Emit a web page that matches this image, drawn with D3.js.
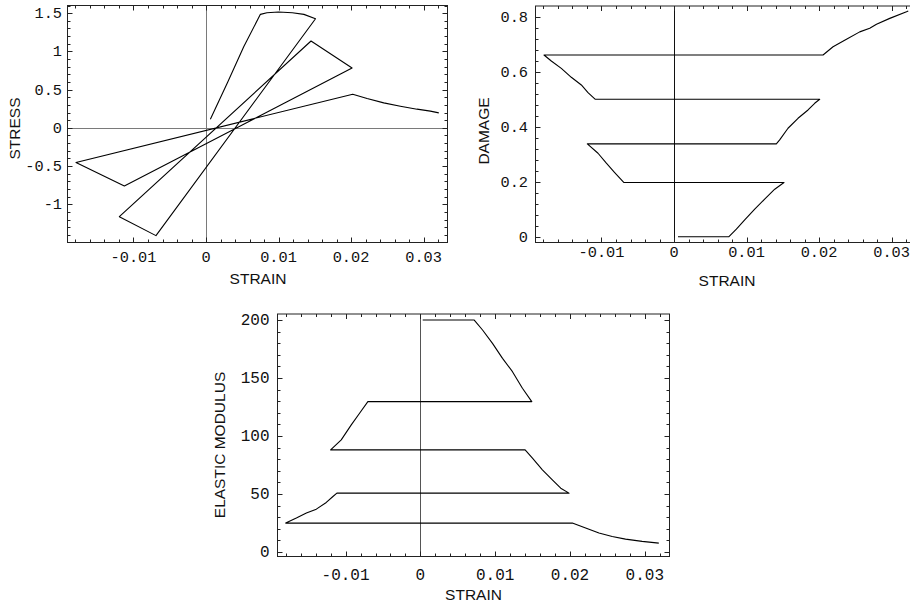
<!DOCTYPE html>
<html>
<head>
<meta charset="utf-8">
<script src="https://cdn.jsdelivr.net/npm/d3@7"></script>
<style>
  html, body { margin: 0; padding: 0; background: #fff; }
  svg { display: block; }
  .tick-label { font-family: "Liberation Mono", "Courier New", monospace; fill: #111; }
  .axis-title { font-family: "Liberation Sans", Arial, Helvetica, sans-serif; fill: #111; }
</style>
</head>
<body>
<svg id="chart" width="910" height="606"></svg>
<script>
// ---------- data ----------
const strainTicks = [-0.01, 0, 0.01, 0.02, 0.03];
const strainTickLabels = ["-0.01", "0", "0.01", "0.02", "0.03"];

const stressTicks = [-1, -0.5, 0, 0.5, 1, 1.5];
const stressTickLabels = ["-1", "-0.5", "0", "0.5", "1", "1.5"];

const damageTicks = [0, 0.2, 0.4, 0.6, 0.8];
const damageTickLabels = ["0", "0.2", "0.4", "0.6", "0.8"];

const modulusTicks = [0, 50, 100, 150, 200];
const modulusTickLabels = ["0", "50", "100", "150", "200"];

// Stress vs strain
const stressStrain = [0.0006, 0.0030, 0.0052, 0.0075, 0.0084, 0.0100, 0.0119, 0.0135, 0.0151,
  -0.0069, -0.01195, 0.01448, 0.02014, -0.01126, -0.01793, 0.02023,
  0.02221, 0.02451, 0.0268, 0.0291, 0.03094, 0.0321];
const stressValues = [0.113, 0.60, 1.06, 1.484, 1.506, 1.514, 1.506, 1.484, 1.427,
  -1.410, -1.162, 1.136, 0.783, -0.7615, -0.4526, 0.4395,
  0.383, 0.326, 0.283, 0.244, 0.218, 0.196];

// Damage vs strain
const damageStrain = [0.00055, 0.00754, 0.0086, 0.00975, 0.01113, 0.0125, 0.01389, 0.01517,
  -0.0069, -0.00818, -0.00933, -0.01048, -0.01195,
  0.01411, 0.01457, 0.01572, 0.0171, 0.01848, 0.0194, 0.02009,
  -0.01085, -0.01186, -0.01278, -0.01416, -0.01554, -0.01692, -0.01793,
  0.02055, 0.02193, 0.02378, 0.02561, 0.02699, 0.02792, 0.02975, 0.03206, 0.0323];
const damageValues = [0, 0, 0.0278, 0.0617, 0.1005, 0.1368, 0.1731, 0.1973,
  0.1973, 0.2336, 0.2675, 0.3038, 0.3377,
  0.3377, 0.3522, 0.3946, 0.4309, 0.4611, 0.4854, 0.4999,
  0.4999, 0.5241, 0.5519, 0.5798, 0.6124, 0.6391, 0.6609,
  0.6609, 0.691, 0.718, 0.745, 0.758, 0.773, 0.794, 0.818, 0.821];

// Elastic modulus vs strain
const modulusStrain = [0.00031, 0.0072, 0.00831, 0.00964, 0.01098, 0.01231, 0.01364, 0.01489,
  -0.00702, -0.00813, -0.00924, -0.01058, -0.0120,
  0.0140, 0.01498, 0.01631, 0.01764, 0.01876, 0.01987,
  -0.01116, -0.01169, -0.01258, -0.01391, -0.01524, -0.01658, -0.0180,
  0.02031, 0.02209, 0.02387, 0.02564, 0.02742, 0.02964, 0.03187];
const modulusValues = [200, 200, 191.4, 179.9, 167.0, 155.5, 141.2, 129.7,
  129.7, 119.7, 109.6, 96.7, 88.1,
  88.1, 80.9, 70.9, 62.3, 55.1, 50.8,
  50.8, 47.9, 42.8, 37.0, 33.6, 29.3, 25.0,
  25.0, 20.7, 16.4, 13.5, 11.2, 9.2, 7.7];

// ---------- drawing ----------
const svg = d3.select("#chart");
svg.append("rect").attr("width", 910).attr("height", 606).attr("fill", "#fff");

const strainDomain = [-0.0191, 0.0333];

function panel(cfg) {
  const g = svg.append("g");
  const x = d3.scaleLinear().domain(strainDomain).range([cfg.left, cfg.right]);
  const y = d3.scaleLinear().domain(cfg.yDomain).range([cfg.bottom, cfg.top]);

  // zero axes
  if (cfg.vAxisColor) {
    g.append("line")
      .attr("x1", Math.round(x(0)) + 0.5).attr("x2", Math.round(x(0)) + 0.5)
      .attr("y1", cfg.top).attr("y2", cfg.bottom)
      .attr("stroke", cfg.vAxisColor).attr("stroke-width", 1);
  }
  if (cfg.hAxisColor) {
    g.append("line")
      .attr("x1", cfg.left).attr("x2", cfg.right)
      .attr("y1", Math.round(y(0)) + 0.5).attr("y2", Math.round(y(0)) + 0.5)
      .attr("stroke", cfg.hAxisColor).attr("stroke-width", 1);
  }

  // frame
  g.append("rect")
    .attr("x", cfg.left).attr("y", cfg.top)
    .attr("width", cfg.right - cfg.left).attr("height", cfg.bottom - cfg.top)
    .attr("fill", "none").attr("stroke", "#222").attr("stroke-width", 1);

  // x ticks (bottom and top, inward)
  const xMinor = d3.range(-18, 34, 2).map(v => v / 1000);
  xMinor.forEach(v => {
    const isMajor = Math.abs(Math.round(v * 100) - v * 100) < 1e-6;
    const len = isMajor ? 5 : 3;
    const px = Math.round(x(v)) + 0.5;
    if (px < cfg.left || px > cfg.right) return;
    g.append("line").attr("x1", px).attr("x2", px)
      .attr("y1", cfg.bottom).attr("y2", cfg.bottom - len)
      .attr("stroke", "#222");
    g.append("line").attr("x1", px).attr("x2", px)
      .attr("y1", cfg.top).attr("y2", cfg.top + len)
      .attr("stroke", "#222");
  });

  // y ticks (left and right, inward)
  cfg.yMinor.forEach(v => {
    const isMajor = cfg.yMajor.some(m => Math.abs(m - v) < 1e-9);
    const len = isMajor ? 5 : 3;
    const py = Math.round(y(v)) + 0.5;
    if (py < cfg.top || py > cfg.bottom) return;
    g.append("line").attr("x1", cfg.left).attr("x2", cfg.left + len)
      .attr("y1", py).attr("y2", py).attr("stroke", "#222");
    g.append("line").attr("x1", cfg.right).attr("x2", cfg.right - len)
      .attr("y1", py).attr("y2", py).attr("stroke", "#222");
  });

  // x tick labels
  g.selectAll(null).data(strainTicks).enter().append("text")
    .attr("class", "tick-label")
    .attr("x", d => x(d))
    .attr("y", cfg.xLabelBaseline)
    .attr("text-anchor", "middle")
    .style("font-size", cfg.tickFont + "px")
    .text((d, i) => strainTickLabels[i]);

  // y tick labels
  g.selectAll(null).data(cfg.yTicks).enter().append("text")
    .attr("class", "tick-label")
    .attr("x", cfg.yLabelRight)
    .attr("y", d => y(d) + 5)
    .attr("text-anchor", "end")
    .style("font-size", cfg.tickFont + "px")
    .text((d, i) => cfg.yTickLabels[i]);

  // titles
  g.append("text").attr("class", "axis-title")
    .attr("x", cfg.xTitleX).attr("y", cfg.xTitleY)
    .attr("text-anchor", "middle").style("font-size", "15.5px")
    .text("STRAIN");
  g.append("text").attr("class", "axis-title")
    .attr("transform", `translate(${cfg.yTitleX},${cfg.yTitleY}) rotate(-90)`)
    .attr("text-anchor", "middle").style("font-size", "15.5px")
    .text(cfg.yTitle);

  // curve
  const pts = cfg.xs.map((v, i) => [v, cfg.ys[i]]);
  const line = d3.line().x(d => x(d[0])).y(d => y(d[1]));
  g.append("path").datum(pts)
    .attr("d", line)
    .attr("fill", "none").attr("stroke", "#000")
    .attr("stroke-width", 1.1).attr("stroke-linejoin", "round");
}

panel({
  left: 67.5, right: 447.5, top: 5.5, bottom: 242.5,
  yDomain: [-1.50, 1.60],
  yTicks: stressTicks, yTickLabels: stressTickLabels,
  yMajor: stressTicks,
  yMinor: d3.range(-14, 17, 1).map(v => v / 10),
  tickFont: 15.3,
  xLabelBaseline: 262, yLabelRight: 62,
  xTitleX: 258, xTitleY: 283.5,
  yTitleX: 19.5, yTitleY: 128.5, yTitle: "STRESS",
  vAxisColor: "#7a7a7a", hAxisColor: "#7a7a7a",
  xs: stressStrain, ys: stressValues
});

panel({
  left: 535.5, right: 915.5, top: 6, bottom: 242.5,
  yDomain: [-0.0207, 0.839],
  yTicks: damageTicks, yTickLabels: damageTickLabels,
  yMajor: damageTicks,
  yMinor: d3.range(0, 21, 1).map(v => v * 0.04),
  tickFont: 15.3,
  xLabelBaseline: 256.5, yLabelRight: 528,
  xTitleX: 727, xTitleY: 286,
  yTitleX: 488.5, yTitleY: 131, yTitle: "DAMAGE",
  vAxisColor: "#111", hAxisColor: null,
  xs: damageStrain, ys: damageValues
});

panel({
  left: 277.5, right: 669.5, top: 314, bottom: 556.5,
  yDomain: [-3.8, 205.2],
  yTicks: modulusTicks, yTickLabels: modulusTickLabels,
  yMajor: modulusTicks,
  yMinor: d3.range(0, 21, 1).map(v => v * 10),
  tickFont: 16,
  xLabelBaseline: 579.5, yLabelRight: 269.5,
  xTitleX: 473.5, xTitleY: 600,
  yTitleX: 225, yTitleY: 445, yTitle: "ELASTIC MODULUS",
  vAxisColor: "#555", hAxisColor: null,
  xs: modulusStrain, ys: modulusValues
});
</script>
</body>
</html>
